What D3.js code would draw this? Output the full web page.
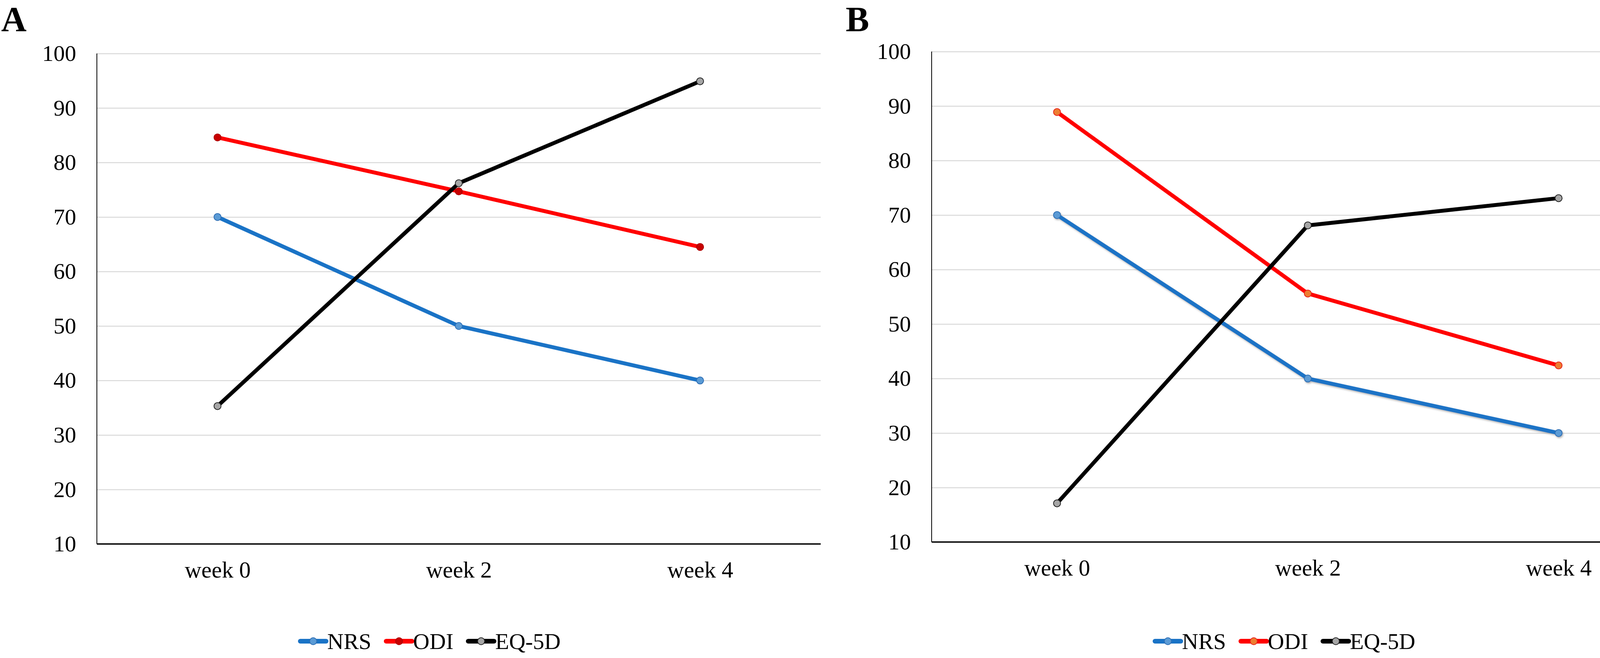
<!DOCTYPE html>
<html>
<head>
<meta charset="utf-8">
<script src="https://cdn.jsdelivr.net/npm/d3@7"></script>
<style>
  body { margin: 0; background: #fff; }
  svg { display: block; font-family: "Liberation Serif", "Times New Roman", serif; }
</style>
</head>
<body>
<div id="chart"></div>
<script>
// categories and tick labels
var weeks = ["week 0", "week 2", "week 4"];
var seriesNames = ["NRS", "ODI", "EQ-5D"];
var yTicks = [10, 20, 30, 40, 50, 60, 70, 80, 90, 100];

// panel A values
var nrsA = [70, 50, 40];
var odiA = [84.6, 74.7, 64.5];
var eqA = [35.3, 76.2, 94.9];

// panel B values
var nrsB = [70, 40, 30];
var odiB = [88.9, 55.6, 42.4];
var eqB = [17.1, 68.1, 73.1];

var svg = d3.select("#chart").append("svg")
    .attr("width", 4317)
    .attr("height", 1685);

svg.append("rect").attr("width", 4317).attr("height", 1685).attr("fill", "#fff");

var defs = svg.append("defs");
defs.append("filter").attr("id", "shadow")
    .attr("x", "-10%").attr("y", "-10%").attr("width", "120%").attr("height", "120%")
  .append("feDropShadow")
    .attr("dx", 2).attr("dy", 3).attr("stdDeviation", 2)
    .attr("flood-color", "#777").attr("flood-opacity", 0.55);

// panel layout
var panels = [
  { letter: "A", lx: 3, ly: 80, left: 248, right: 2101, top: 137, bottom: 1393, legendX: 1102,
    data: [nrsA, odiA, eqA],
    markerFill: ["#5b9bd5", "#c80000", "#a6a6a6"],
    markerStroke: ["#2f6fb5", "#b00000", "#222"],
    shadow: [false, false, false] },
  { letter: "B", lx: 2165, ly: 80, left: 2385, right: 4311, top: 132, bottom: 1388, legendX: 3290,
    data: [nrsB, odiB, eqB],
    markerFill: ["#5b9bd5", "#ed7d31", "#a6a6a6"],
    markerStroke: ["#2f6fb5", "#e8251c", "#222"],
    shadow: [true, false, false] }
];

var lineColors = ["#1a73c6", "#ff0000", "#000000"];

panels.forEach(function(p) {
  var g = svg.append("g");

  var x = d3.scalePoint()
      .domain(weeks)
      .range([p.left, p.right])
      .padding(0.5);

  var y = d3.scaleLinear()
      .domain([10, 100])
      .range([p.bottom, p.top]);

  // panel letter
  g.append("text")
      .attr("x", p.lx).attr("y", p.ly)
      .attr("font-size", 90).attr("font-weight", "bold")
      .text(p.letter);

  // gridlines + y labels
  var yAxis = g.append("g")
      .attr("transform", "translate(" + p.left + ",0)")
      .call(d3.axisLeft(y).tickValues(yTicks).tickSize(-(p.right - p.left)).tickPadding(53));
  yAxis.select(".domain").remove();
  yAxis.selectAll(".tick line").attr("stroke", "#d9d9d9").attr("stroke-width", 2.5);
  yAxis.selectAll(".tick text")
      .attr("font-family", "Liberation Serif")
      .attr("font-size", 58).attr("fill", "#000");

  // left axis line
  g.append("line")
      .attr("x1", p.left).attr("x2", p.left)
      .attr("y1", y(100)).attr("y2", y(10))
      .attr("stroke", "#000").attr("stroke-width", 2);

  // bottom axis
  var xAxis = g.append("g")
      .attr("transform", "translate(0," + p.bottom + ")")
      .call(d3.axisBottom(x).tickSize(0));
  xAxis.select(".domain")
      .attr("d", "M" + p.left + ",0H" + p.right)
      .attr("stroke", "#000").attr("stroke-width", 3.5);
  xAxis.selectAll(".tick text")
      .attr("y", 86).attr("dy", 0)
      .attr("font-family", "Liberation Serif")
      .attr("font-size", 59).attr("fill", "#000");

  // series lines and markers
  var line = d3.line()
      .x(function(d, i) { return x(weeks[i]); })
      .y(function(d) { return y(d); });

  p.data.forEach(function(vals, s) {
    var sg = g.append("g");
    if (p.shadow[s]) sg.attr("filter", "url(#shadow)");
    sg.append("path")
        .datum(vals)
        .attr("d", line)
        .attr("fill", "none")
        .attr("stroke", lineColors[s])
        .attr("stroke-width", 10)
        .attr("stroke-linejoin", "round");
    sg.selectAll("circle")
        .data(vals).enter()
        .append("circle")
        .attr("cx", function(d, i) { return x(weeks[i]); })
        .attr("cy", function(d) { return y(d); })
        .attr("r", 9)
        .attr("fill", p.markerFill[s])
        .attr("stroke", p.markerStroke[s])
        .attr("stroke-width", 2);
  });

  // legend
  var leg = g.append("g");
  var items = leg.selectAll(".item")
      .data(seriesNames).enter()
      .append("g").attr("class", "item");
  items.append("line")
      .attr("x1", 0).attr("x2", 66)
      .attr("y1", 1642).attr("y2", 1642)
      .attr("stroke", function(d, i) { return lineColors[i]; })
      .attr("stroke-width", 12)
      .attr("stroke-linecap", "round");
  items.append("circle")
      .attr("cx", 33).attr("cy", 1642).attr("r", 9)
      .attr("fill", function(d, i) { return p.markerFill[i]; })
      .attr("stroke", function(d, i) { return p.markerStroke[i]; })
      .attr("stroke-width", 2);
  items.append("text")
      .attr("x", 69).attr("y", 1662)
      .attr("font-size", 58)
      .text(function(d) { return d; });

  var widths = [];
  items.each(function() {
    widths.push(69 + d3.select(this).select("text").node().getComputedTextLength());
  });
  var total = d3.sum(widths) + 38 * (widths.length - 1);
  var pos = p.legendX - total / 2;
  items.attr("transform", function(d, i) {
    var t = "translate(" + pos + ",0)";
    pos += widths[i] + 38;
    return t;
  });
});
</script>
</body>
</html>
